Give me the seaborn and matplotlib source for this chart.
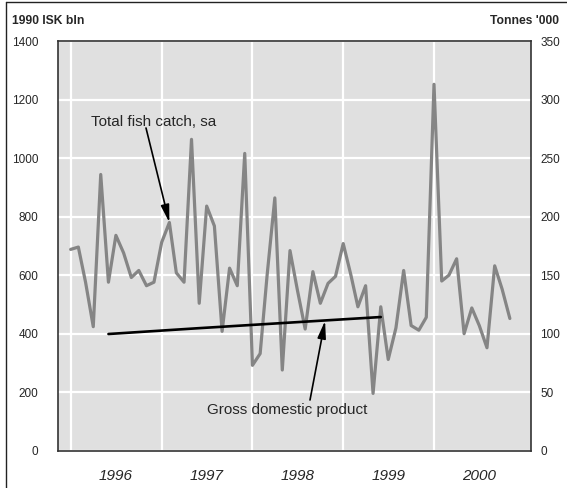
import matplotlib
matplotlib.use("Agg")
import matplotlib.pyplot as plt
import matplotlib.dates as mdates
from matplotlib.lines import Line2D
import seaborn as sns
import pandas as pd
import numpy as np

# ---- data ----
months = pd.date_range("1996-01-01", periods=59, freq="MS")
fish_catch = [172, 174, 144, 106, 236, 144, 184, 169, 148, 154, 141, 144,
              178, 195, 152, 144, 266, 126, 209, 192, 102, 156, 141, 254,
              73, 83, 150, 216, 69, 171, 137, 104, 153, 126, 143, 149,
              177, 150, 123, 141, 49, 123, 78, 105, 154, 107, 103, 114,
              313, 145, 150, 164, 100, 122, 107, 88, 158, 138, 113]
gdp_dates = pd.to_datetime(["1996-06-01", "1997-06-01", "1998-06-01", "1999-06-01"])
gdp = [399, 419, 438, 457]
years = [1996, 1997, 1998, 1999, 2000]
left_ticks = [0, 200, 400, 600, 800, 1000, 1200, 1400]
right_ticks = [0, 50, 100, 150, 200, 250, 300, 350]

fish_df = pd.DataFrame({"date": months, "catch": fish_catch})
gdp_df = pd.DataFrame({"date": gdp_dates, "gdp": gdp})

sns.set_style("white")
plt.rcParams["font.family"] = ["Liberation Sans", "DejaVu Sans"]

W, H = 567, 488
fig = plt.figure(figsize=(W / 100, H / 100), dpi=100)
L, R, T, B = 57.7, 530.5, 41, 450.8
ax = fig.add_axes([L / W, 1 - B / H, (R - L) / W, (B - T) / H])
ax2 = ax.twinx()

# bottom layer: ax2 with background and grid
ax.set_zorder(2)
ax2.set_zorder(1)
ax.patch.set_visible(False)
ax2.patch.set_visible(True)
ax2.patch.set_facecolor("#e0e0e0")

sns.lineplot(data=fish_df, x="date", y="catch", ax=ax2, color="#858585",
             linewidth=2.3, zorder=3)
sns.lineplot(data=gdp_df, x="date", y="gdp", ax=ax, color="black",
             linewidth=1.9, zorder=3)

xmin = pd.Timestamp("1995-11-10")
xmax = pd.Timestamp("2001-01-23")
ax.set_xlim(xmin, xmax)
ax.set_ylim(0, 1400)
ax2.set_ylim(0, 350)

ax.set_yticks(left_ticks)
ax2.set_yticks(right_ticks)
ax.set_yticklabels([str(v) for v in left_ticks])
ax2.set_yticklabels([str(v) for v in right_ticks])

major = [pd.Timestamp(f"{y}-01-01") for y in years]
minor = [pd.Timestamp(f"{y}-07-01") for y in years]
ax.set_xticks(major)
ax.set_xticklabels([""] * len(major))
ax.set_xticks(minor, minor=True)
ax.set_xticklabels([str(y) for y in years], minor=True, fontstyle="italic",
                   fontsize=11)
ax.tick_params(axis="x", which="both", length=0, pad=13)
ax.tick_params(axis="y", length=0, pad=14, labelsize=8.5)
ax2.tick_params(axis="y", length=0, pad=7, labelsize=8.5)
ax.set_xlabel("")
ax.set_ylabel("")
ax2.set_xlabel("")
ax2.set_ylabel("")

# grid on the bottom layer
ax2.xaxis.set_visible(True)
ax2.tick_params(axis="x", which="both", length=0, labelbottom=False)
ax2.set_xticks(major)
ax2.grid(True, axis="both", which="major", color="white", linewidth=1.6)
ax2.set_axisbelow(True)
ax.grid(False)

for a in (ax, ax2):
    for s in a.spines.values():
        s.set_color("#333333")
        s.set_linewidth(1.2)
for s in ax2.spines.values():
    s.set_visible(False)

# titles
fig.text(11.7 / W, 1 - 24 / H, "1990 ISK bln", fontsize=8.7, fontweight="bold",
         ha="left", va="baseline")
fig.text(559.3 / W, 1 - 24 / H, "Tonnes '000", fontsize=8.7, fontweight="bold",
         ha="right", va="baseline")

# annotations
fig.text(153.7 / W, 1 - 126 / H, "Total fish catch, sa", fontsize=11,
         ha="center", va="baseline")
arrow = dict(arrowstyle="-|>,head_length=0.75,head_width=0.18",
             mutation_scale=14, lw=1.2, color="black", shrinkA=0, shrinkB=0)
ax2.annotate("", xy=(months[13], fish_catch[13]), xycoords="data",
             xytext=(146, H - 128), textcoords="figure pixels",
             arrowprops=arrow)
fig.text(287 / W, 1 - 414 / H, "Gross domestic product", fontsize=11,
         ha="center", va="baseline")
ax.annotate("", xy=(pd.Timestamp("1998-10-20"), 444), xycoords="data",
            xytext=(310, H - 400), textcoords="figure pixels",
            arrowprops=arrow)

# outer frame (left and top edges)
fig.add_artist(Line2D([5.5 / W, 5.5 / W], [0, 1 - 1.5 / H], color="#222222",
                      linewidth=1.0, transform=fig.transFigure))
fig.add_artist(Line2D([5.5 / W, 1], [1 - 1.5 / H, 1 - 1.5 / H], color="#222222",
                      linewidth=1.0, transform=fig.transFigure))

fig.savefig("out.png", dpi=100)
